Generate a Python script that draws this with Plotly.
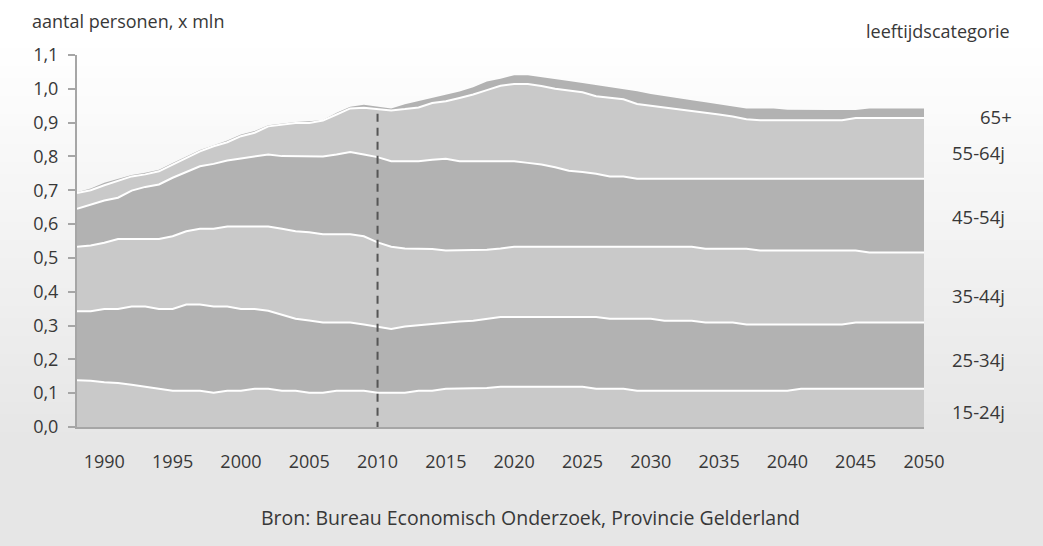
import plotly.graph_objects as go

# ---------------- data ----------------
years = list(range(1988, 2051))
categories = ["15-24j", "25-34j", "35-44j", "45-54j", "55-64j", "65+"]

# upper edge of each stacked layer (cumulative, x mln)
top_15_24 = [
    .138, .137, .132, .130, .125, .119, .113, .107, .107, .107,
    .101, .107, .107, .113, .113, .107, .107, .101, .101, .107,
    .107, .107, .101, .101, .101, .107, .107, .113, .113, .113,
    .115, .119, .119, .119, .119, .119, .119, .119, .113, .113,
    .113, .107, .107, .107, .107, .107, .107, .107, .107, .107,
    .107, .107, .107, .113, .113, .113, .113, .113, .113, .113,
    .113, .113, .113]
top_25_34 = [
    .342, .342, .349, .349, .356, .356, .349, .349, .362, .362,
    .356, .356, .349, .349, .344, .332, .320, .315, .309, .309,
    .309, .303, .296, .290, .297, .301, .303, .309, .312, .314,
    .320, .325, .325, .325, .325, .325, .325, .325, .325, .320,
    .320, .320, .320, .314, .314, .314, .309, .309, .309, .303,
    .303, .303, .303, .303, .303, .303, .303, .309, .309, .309,
    .309, .309, .309]
top_35_44 = [
    .533, .537, .545, .556, .556, .556, .556, .564, .579, .586,
    .586, .593, .593, .593, .593, .586, .579, .576, .570, .570,
    .570, .564, .546, .533, .528, .527, .526, .522, .522, .522,
    .524, .528, .533, .533, .533, .533, .533, .533, .533, .533,
    .533, .533, .533, .533, .533, .533, .527, .527, .527, .527,
    .522, .522, .522, .522, .522, .522, .522, .522, .516, .516,
    .516, .516, .516]
top_45_54 = [
    .645, .658, .670, .678, .699, .710, .717, .737, .753, .771,
    .778, .788, .794, .799, .806, .801, .800, .800, .800, .806,
    .813, .806, .798, .786, .786, .786, .790, .793, .786, .786,
    .786, .786, .786, .781, .776, .768, .758, .754, .749, .741,
    .741, .734, .734, .734, .734, .734, .734, .734, .734, .734,
    .734, .734, .734, .734, .734, .734, .734, .734, .734, .734,
    .734, .734, .734]
top_55_64 = [
    .692, .700, .715, .727, .741, .747, .756, .776, .796, .815,
    .830, .842, .860, .870, .889, .894, .899, .899, .906, .924,
    .942, .944, .939, .936, .940, .945, .958, .963, .973, .983,
    .996, 1.009, 1.014, 1.014, 1.008, 1.000, .995, .990, .978, .973,
    .969, .955, .950, .945, .941, .935, .929, .924, .918, .910,
    .907, .907, .907, .907, .907, .907, .907, .914, .914, .914,
    .914, .914, .914]
top_65plus = [
    .694, .705, .722, .733, .745, .752, .761, .781, .801, .819,
    .833, .847, .865, .875, .892, .897, .902, .904, .908, .929,
    .947, .953, .948, .942, .954, .963, .972, .982, .992, 1.005,
    1.022, 1.030, 1.040, 1.040, 1.035, 1.030, 1.023, 1.017, 1.011, 1.006,
    1.000, .993, .985, .978, .972, .966, .960, .954, .948, .942,
    .942, .942, .938, .937, .937, .937, .937, .937, .942, .942,
    .942, .942, .942]

layer_tops = [top_15_24, top_25_34, top_35_44, top_45_54, top_55_64, top_65plus]
x_tick_years = list(range(1990, 2051, 5))
y_tick_values = [round(i * 0.1, 1) for i in range(12)]
forecast_start_year = 2010

# ---------------- style ----------------
W, H = 1043, 546
L, R, T, B = 77, 119, 55, 119
PW, PH = W - L - R, H - T - B
FONT = "Open Sans"
TXT = "#383838"
light, dark = "#c9c9c9", "#b2b2b2"
fills = [light, dark, light, dark, light, dark]


def px(x):
    return (x - L) / PW


def py(y):
    return (H - B - y) / PH


fig = go.Figure()
for i, (name, top) in enumerate(zip(categories, layer_tops)):
    fig.add_trace(go.Scatter(
        x=years, y=top, name=name, mode="lines",
        line=dict(color="white", width=2 if i < 5 else 0),
        fill="tozeroy" if i == 0 else "tonexty",
        fillcolor=fills[i], hoverinfo="skip", showlegend=False))

shapes = []
# background gradient (white at top -> light grey at bottom)
step = 6
for y0 in range(0, H, step):
    yc = y0 + step / 2
    if yc < 40:
        v = 255
    elif yc > 440:
        v = 230
    else:
        v = 255 - (yc - 40) / 400 * 25
    v = int(round(v))
    shapes.append(dict(type="rect", xref="paper", yref="paper",
                       x0=px(-2), x1=px(W + 2), y0=py(y0 + step), y1=py(y0),
                       fillcolor=f"rgb({v},{v},{v})", line=dict(width=0),
                       layer="below"))
# dashed marker at start of forecast
shapes.append(dict(type="line", xref="x", yref="y",
                   x0=forecast_start_year, x1=forecast_start_year,
                   y0=-0.008, y1=0.93,
                   line=dict(color="#555555", width=2, dash="8px,6px"),
                   layer="above"))

annotations = [
    dict(text="aantal personen, x mln", x=px(30), y=py(21), xanchor="left",
         yanchor="middle", font=dict(size=18, color=TXT, family=FONT)),
    dict(text="leeftijdscategorie", x=px(1012), y=py(31), xanchor="right",
         yanchor="middle", font=dict(size=18, color=TXT, family=FONT)),
    dict(text="Bron: Bureau Economisch Onderzoek, Provincie Gelderland",
         x=px(530), y=py(517), xanchor="center", yanchor="middle",
         font=dict(size=19.5, color=TXT, family=FONT)),
]
label_pos = {"65+": (996, 117), "55-64j": (979, 152), "45-54j": (978, 217),
             "35-44j": (978, 295), "25-34j": (978, 359), "15-24j": (978, 411)}
for name in categories:
    xx, yy = label_pos[name]
    annotations.append(dict(text=name, x=px(xx), y=py(yy), xanchor="center",
                            yanchor="middle",
                            font=dict(size=18.5, color=TXT, family=FONT)))
for a in annotations:
    a.update(xref="paper", yref="paper", showarrow=False)

fig.update_layout(
    width=W, height=H,
    margin=dict(l=L, r=R, t=T, b=B, pad=0),
    paper_bgcolor="#e6e6e6", plot_bgcolor="rgba(0,0,0,0)",
    separators=", ",
    font=dict(family=FONT, size=18, color=TXT),
    shapes=shapes, annotations=annotations,
    xaxis=dict(range=[years[0], years[-1]], tickvals=x_tick_years,
               showgrid=False, zeroline=False, showline=True,
               linecolor="#a6a6a6", linewidth=2, ticks="",
               ticklabelstandoff=17, tickfont=dict(size=18, color=TXT),
               fixedrange=True),
    yaxis=dict(range=[0, 1.1], tickvals=y_tick_values, tickformat=".1f",
               showgrid=False, zeroline=False, showline=True,
               linecolor="#a6a6a6", linewidth=2, ticks="outside",
               ticklen=7, tickcolor="#a6a6a6", tickwidth=1.5,
               ticklabelstandoff=6, tickfont=dict(size=18, color=TXT),
               fixedrange=True),
    hovermode=False,
)

fig.write_html(
    "out.html",
    config={"displayModeBar": False},
    post_script="document.body.style.margin='0';document.body.style.padding='0';",
)
